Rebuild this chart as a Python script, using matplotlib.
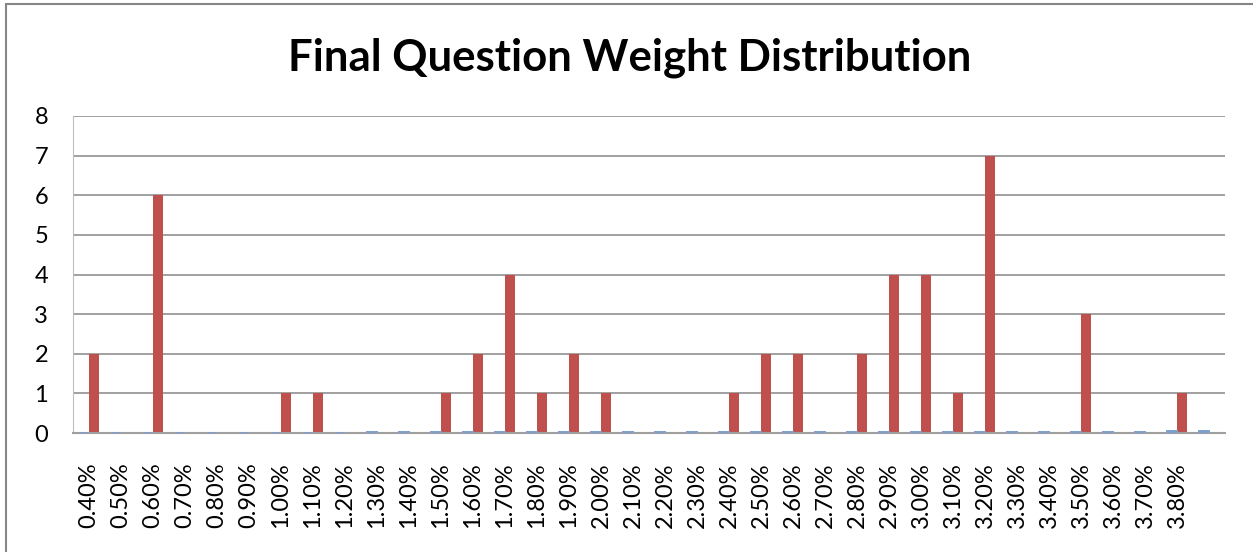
import numpy as np
import matplotlib as mpl
from matplotlib import pyplot as plt
from matplotlib.patches import Rectangle

mpl.rcParams['font.family'] = ['Lato', 'DejaVu Sans']

# bins (as percent labels) and the two series
bins = [0.40, 0.50, 0.60, 0.70, 0.80, 0.90, 1.00, 1.10, 1.20, 1.30, 1.40, 1.50,
        1.60, 1.70, 1.80, 1.90, 2.00, 2.10, 2.20, 2.30, 2.40, 2.50, 2.60, 2.70,
        2.80, 2.90, 3.00, 3.10, 3.20, 3.30, 3.40, 3.50, 3.60, 3.70, 3.80, 3.90]
labels = ['%.2f%%' % b for b in bins[:-1]] + ['']
bin_series = [b / 100 for b in bins]
frequency = [2, 0, 6, 0, 0, 0, 1, 1, 0, 0, 0, 1,
             2, 4, 1, 2, 1, 0, 0, 0, 1, 2, 2, 0,
             2, 4, 4, 1, 7, 0, 0, 3, 0, 0, 1, 0]

W, H = 1253, 552
fig = plt.figure(figsize=(W / 100, H / 100), dpi=100)
ax = fig.add_axes([73 / W, 1 - 433 / H, (1225 - 73) / W, (433 - 116) / H])

x = np.arange(len(bins))
bw = 0.3
ax.bar(x - bw / 2, bin_series, width=bw, color='#4F81BD',
       edgecolor='#7BA0CD', linewidth=1.4, zorder=5)
ax.bar(x + bw / 2, frequency, width=bw, color='#C0504D', zorder=3)

ax.set_xlim(-0.5, len(bins) - 0.5)
ax.set_ylim(0, 8)
ax.set_yticks(range(0, 9))
ax.set_xticks(x)
ax.set_xticklabels(labels, rotation=90)
ax.tick_params(axis='x', length=0, pad=21, labelsize=17)
ax.tick_params(axis='y', length=0, pad=18, labelsize=17)

ax.grid(axis='y', color='#868686', linewidth=1.1, zorder=0)
for s in ['top', 'right']:
    ax.spines[s].set_visible(False)
ax.spines['left'].set_color('#BFBFBF')
ax.spines['bottom'].set_color('#A0A0A0')
ax.spines['bottom'].set_linewidth(1.5)
ax.spines['bottom'].set_zorder(4)

fig.text(630 / W, 1 - 70 / H, 'Final Question Weight Distribution',
         ha='center', va='baseline', fontsize=31.5, fontweight='bold')

# chart border (runs off the right and bottom edge)
fig.patches.append(Rectangle((6 / W, -0.1), 1.2, 1.1 - 4 / H, fill=False,
                             edgecolor='#868686', linewidth=1.5,
                             transform=fig.transFigure, figure=fig))

fig.savefig('out.png', dpi=100)
